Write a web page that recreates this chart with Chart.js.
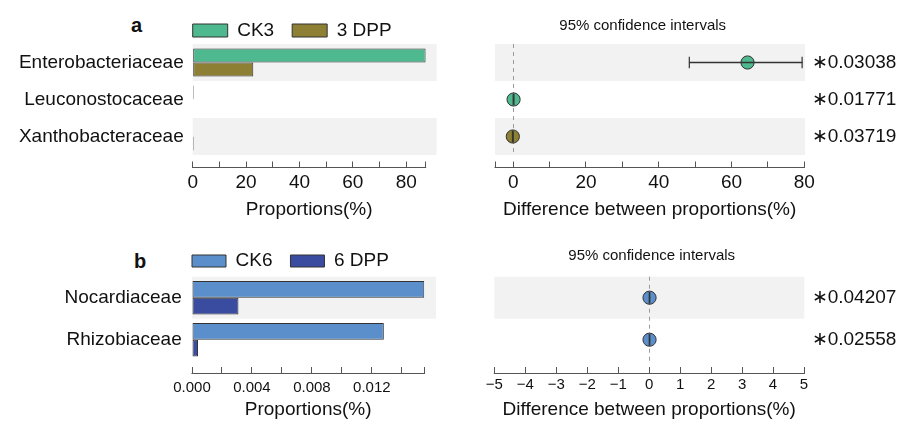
<!DOCTYPE html>
<html><head><meta charset="utf-8">
<script src="https://cdn.jsdelivr.net/npm/chart.js@4/dist/chart.umd.min.js"></script>
<style>
html,body{margin:0;padding:0;background:#fff;overflow:hidden;width:899px;height:421px;position:relative}
canvas{position:absolute}
.lbl{position:absolute;font:bold 20px "Liberation Sans",Arial,sans-serif;line-height:20px;color:#111}
</style></head><body>
<div class="lbl" style="left:131px;top:15px">a</div>
<div class="lbl" style="left:134px;top:251px">b</div>
<canvas id="al" width="450" height="226" style="left:0;top:0"></canvas>
<canvas id="ar" width="519" height="226" style="left:380px;top:0"></canvas>
<canvas id="bl" width="450" height="222" style="left:0;top:200px"></canvas>
<canvas id="br" width="519" height="222" style="left:380px;top:200px"></canvas>
<script>
// ---------- data ----------
const catsA = ['Enterobacteriaceae', 'Leuconostocaceae', 'Xanthobacteraceae'];
const ck3 = [87.3, 0.4, 0];
const dpp3 = [22.7, 0, 0.4];
const diffA = [64.4, 0.1, -0.1];
const ciLowA = [48.4, 0.0, -0.2];
const ciHighA = [79.4, 0.2, 0.0];
const pA = ['0.03038', '0.01771', '0.03719'];

const catsB = ['Nocardiaceae', 'Rhizobiaceae'];
const ck6 = [0.0155, 0.0128];
const dpp6 = [0.0031, 0.0004];
const diffB = [0.0124, 0.0124];
const ciLowB = [0.004, 0.004];
const ciHighB = [0.021, 0.021];
const pB = ['0.04207', '0.02558'];

const ticksAL = [0, 10, 20, 30, 40, 50, 60, 70, 80, 87.3];
const labelsAL = [0, 20, 40, 60, 80];
const ticksAR = [-5, 0, 10, 20, 30, 40, 50, 60, 70, 80];
const labelsAR = [0, 20, 40, 60, 80];
const ticksBL = [0, 0.002, 0.004, 0.006, 0.008, 0.010, 0.012, 0.014, 0.0155];
const labelsBL = [0, 0.004, 0.008, 0.012];
const ticksBR = [-5, -4, -3, -2, -1, 0, 1, 2, 3, 4, 5];
const labelsBR = [-5, -4, -3, -2, -1, 0, 1, 2, 3, 4, 5];

const COL = { ck3: '#4eb88e', dpp3: '#8d7f33', ck6: '#5a8fcb', dpp6: '#3a4ca0' };
const FONT = '"Liberation Sans", Arial, Helvetica, sans-serif';
Chart.defaults.font.family = FONT;
Chart.defaults.color = '#111';

// ---------- plugins (styling only) ----------
const bandPlugin = {
  id: 'bands',
  beforeDraw(chart, args, opts) {
    const y = chart.scales.y, ca = chart.chartArea, ctx = chart.ctx;
    const n = y.getLabels().length, h = (y.bottom - y.top) / n;
    ctx.save(); ctx.fillStyle = opts.color;
    for (let i = 0; i < n; i += 2) {
      const c = y.getPixelForValue(i);
      ctx.fillRect(ca.left, c - h / 2, ca.right - ca.left + opts.ext, h);
    }
    ctx.restore();
  }
};
const axisLinePlugin = {
  id: 'axisLine',
  afterDraw(chart) {
    const x = chart.scales.x, ctx = chart.ctx;
    const yy = x.top + x.options.grid.tickLength - 0.5;
    ctx.save(); ctx.strokeStyle = '#555'; ctx.lineWidth = 1;
    ctx.beginPath();
    ctx.moveTo(x.getPixelForValue(x.min) - 0.5, yy);
    ctx.lineTo(x.getPixelForValue(x.max) + 0.5, yy);
    ctx.stroke(); ctx.restore();
  }
};
const legendShift = {
  id: 'legendShift',
  afterLayout(chart) {
    const l = chart.legend;
    if (l && l.options.display) l.left = chart.chartArea.left - l.options.labels.padding;
  }
};

function xAxis(c, title) {
  return {
    type: 'linear', position: 'bottom', min: c.min, max: c.max,
    grid: {
      drawOnChartArea: !!c.zeroLine, lineWidth: 1,
      color: ctx => (ctx.tick && ctx.tick.value === 0) ? '#9a9a9a' : 'rgba(0,0,0,0)',
      drawTicks: true, tickLength: c.gap + c.tick, tickColor: '#555', tickWidth: 1,
      tickBorderDash: [c.tick, c.gap], tickBorderDashOffset: c.tick
    },
    border: { display: false, dash: [4, 4] },
    afterBuildTicks: s => { s.ticks = c.ticks.map(v => ({ value: v })); },
    ticks: {
      autoSkip: false, maxRotation: 0, minRotation: 0, color: '#111',
      font: { size: c.tickFont }, padding: c.xPad,
      callback: v => c.labelled.includes(v) ? c.fmt(v) : ''
    },
    title: { display: true, text: title, color: '#111', font: { size: 19 },
             padding: { top: c.titlePad - c.xPad, bottom: 0 } }
  };
}

function leftChart(id, cats, s1, s2, names, cols, c) {
  return new Chart(document.getElementById(id), {
    type: 'bar',
    data: { labels: cats, datasets: [
      { label: names[0], data: s1, backgroundColor: cols[0] },
      { label: names[1], data: s2, backgroundColor: cols[1] }
    ]},
    options: {
      indexAxis: 'y', responsive: false, animation: false, events: [],
      datasets: { bar: { borderColor: '#333', borderWidth: 1, borderSkipped: false, barPercentage: 1, categoryPercentage: c.catPct } },
      layout: { padding: { top: c.padTop, right: c.padRight, bottom: c.padBottom, left: 0 } },
      plugins: {
        legend: { position: 'top', align: 'start', maxHeight: c.legendH,
          labels: { boxWidth: c.boxW, boxHeight: c.boxH, padding: 18, color: '#111', font: { size: 19 } } },
        tooltip: { enabled: false },
        bands: { color: '#f2f2f2', ext: c.ext }
      },
      scales: {
        y: { grid: { display: false, drawTicks: false }, border: { display: false },
             ticks: { color: '#111', font: { size: 19 }, padding: c.yPad },
             afterFit: s => { s.width = c.yW; } },
        x: xAxis(c, 'Proportions(%)')
      }
    },
    plugins: [bandPlugin, axisLinePlugin, legendShift]
  });
}

function rightChart(id, cats, diff, lo, hi, pv, colPos, colNeg, c) {
  const caps = [];
  cats.forEach((cat, i) => { caps.push({ x: lo[i], y: cat }); caps.push({ x: hi[i], y: cat }); });
  return new Chart(document.getElementById(id), {
    type: 'bar',
    data: { labels: cats, datasets: [
      { type: 'line', label: 'caps', data: caps, showLine: false, pointStyle: 'line', pointRadius: 5.8,
        pointRotation: 90, pointBorderColor: '#333', pointBorderWidth: 1.2, order: 1, xAxisID: 'x', yAxisID: 'y' },
      { type: 'bar', label: 'ci', data: cats.map((cat, i) => [lo[i], hi[i]]), backgroundColor: '#333',
        borderWidth: 0, barThickness: 1, order: 2, xAxisID: 'x', yAxisID: 'y' },
      { type: 'line', label: 'diff', data: cats.map((cat, i) => ({ x: diff[i], y: cat })), showLine: false,
        pointRadius: 6.6, pointBackgroundColor: diff.map(d => d >= 0 ? colPos : colNeg),
        pointBorderColor: '#333', pointBorderWidth: 1, order: 3, xAxisID: 'x', yAxisID: 'y' }
    ]},
    options: {
      indexAxis: 'y', responsive: false, animation: false, events: [],
      layout: { padding: { top: 0, right: c.padRight, bottom: c.padBottom, left: c.padLeft } },
      plugins: {
        legend: { display: false },
        tooltip: { enabled: false },
        title: { display: true, text: '95% confidence intervals', color: '#111',
                 font: { size: 15, weight: 'normal' }, padding: { top: c.tPadTop, bottom: c.tPadBottom } },
        bands: { color: '#f2f2f2', ext: c.ext }
      },
      scales: {
        x: xAxis(c, 'Difference between proportions(%)'),
        y: { type: 'category', labels: cats, offset: true, position: 'right',
             grid: { display: false, drawTicks: false }, border: { display: false },
             ticks: { color: '#111', font: { size: 19 }, padding: c.pPad, callback: (v, i) => '\u2217' + pv[i] },
             afterFit: s => { s.width = c.wr; } },
        yl: { type: 'category', labels: cats, offset: true, position: 'left', display: true,
              grid: { display: false, drawTicks: false }, border: { display: false }, ticks: { display: false },
              afterFit: s => { s.width = c.wl; } }
      }
    },
    plugins: [bandPlugin, axisLinePlugin]
  });
}

const fmtInt = v => String(v);
const fmtMinus = v => v < 0 ? '\u2212' + (-v) : String(v);

leftChart('al', catsA, ck3, dpp3, ['CK3', '3 DPP'], [COL.ck3, COL.dpp3], {
  catPct: 0.757, padTop: 3, padRight: 24.3, padBottom: 4.8, legendH: 41, boxW: 35, boxH: 13,
  ext: 11, yPad: 9, yW: 192.7, min: 0, max: Math.max(...ck3), gap: 6.5, tick: 6.5,
  tickFont: 19, xPad: 3.6, ticks: ticksAL, labelled: labelsAL, fmt: fmtInt, titlePad: 4
});
rightChart('ar', catsA, diffA, ciLowA, ciHighA, pA, COL.ck3, COL.dpp3, {
  padLeft: 7.1, padRight: 0.7, padBottom: 4.8, tPadTop: 17, tPadBottom: 9, wl: 107.9, wr: 94, pPad: 7.4,
  ext: 0.7, min: -5, max: 80, zeroLine: true, gap: 6.5, tick: 6.5, tickFont: 19, xPad: 3.6,
  ticks: ticksAR, labelled: labelsAR, fmt: fmtInt, titlePad: 4
});
leftChart('bl', catsB, ck6, dpp6, ['CK6', '6 DPP'], [COL.ck6, COL.dpp6], {
  catPct: 0.795, padTop: 33.5, padRight: 25.7, padBottom: 0.6, legendH: 43.2, boxW: 34, boxH: 12,
  ext: 11.7, yPad: 10.3, yW: 192, min: 0, max: Math.max(...ck6), gap: 6, tick: 7.3,
  tickFont: 15, xPad: 5.3, ticks: ticksBL, labelled: labelsBL, fmt: v => v.toFixed(3), titlePad: 1.3
});
rightChart('br', catsB, diffB, ciLowB, ciHighB, pB, COL.ck6, COL.dpp6, {
  padLeft: 25.4, padRight: 1, padBottom: 0.6, tPadTop: 47, tPadBottom: 11.7, wl: 88.9, wr: 94, pPad: 7.7,
  ext: 0.3, min: -5, max: 5, zeroLine: true, gap: 6, tick: 7.3, tickFont: 15, xPad: 2,
  ticks: ticksBR, labelled: labelsBR, fmt: fmtMinus, titlePad: 4.6
});
</script>
</body></html>
